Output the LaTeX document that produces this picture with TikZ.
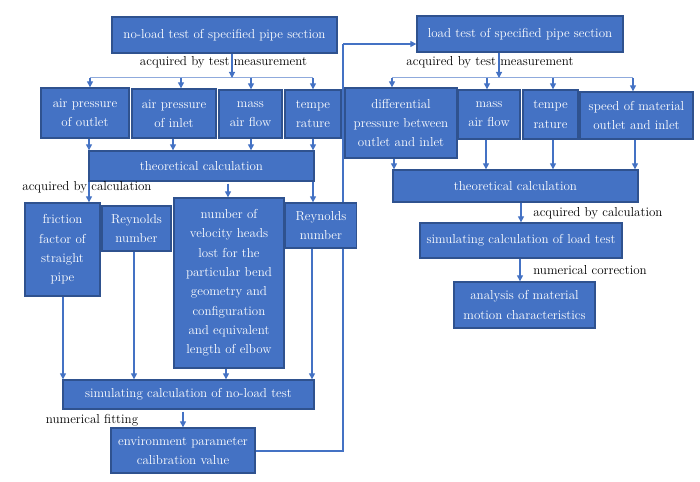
\documentclass[tikz,border=0pt]{standalone}
\usetikzlibrary{arrows.meta}
\definecolor{boxblue}{HTML}{4472C4}
\definecolor{bdr}{HTML}{2F528F}
\definecolor{lineblue}{HTML}{4472C4}
\definecolor{busblue}{HTML}{8FAADC}
\begin{document}
\begin{tikzpicture}[x=1pt,y=-1pt,
  font=\fontsize{13}{19.3}\selectfont,
  box/.style={draw=bdr, fill=boxblue, text=white, align=center, inner sep=0pt, line width=1.3pt},
  conn/.style={draw=lineblue, line width=1.1pt, -{Triangle[length=6pt,width=6pt]}},
  plain/.style={draw=lineblue, line width=1.1pt},
  busline/.style={draw=busblue, line width=1pt},
  lbl/.style={text=black, inner sep=0pt}]
\useasboundingbox (0,0) rectangle (700,481);
% helper x positions
\foreach \n/\x in {v63/63,v89/89,v90/90,v134/134,v173/173,v181/181,v183/183,v226/226,v228/228,v232/232,v251/251,v312/312,v313/313,v343/343,v392/392,v394/394,v486/486,v487/487,v499/499,v520/520,v521/521,v553/553,v633/633,v635/635}
  \coordinate (\n) at (\x,0);

% feedback line first (behind boxes)
\node[box, minimum width=144pt, minimum height=45pt] (env) at (183,450.5) {environment parameter\\calibration value};
\node[box, minimum width=206pt, minimum height=36pt] (load) at (520,34) {load test of specified pipe section};
\coordinate (fb1) at (343,451);
\coordinate (fb2) at (343,44);
\draw[plain] (env.east |- fb1) -- (fb1) -- (fb2);
\draw[conn] (fb2) -- (load.west |- fb2);

% ===== left part =====
\node[box, minimum width=225pt, minimum height=36pt] (A) at (224.5,35) {no-load test of specified pipe section};
\node[lbl] (L1) at (223.5,62) {acquired by test measurement};
\node[box, minimum width=88pt, minimum height=50pt] (ao) at (85,113) {air pressure\\of outlet};
\node[box, minimum width=84pt, minimum height=49pt] (ai) at (174,113.5) {air pressure\\of inlet};
\node[box, minimum width=63pt, minimum height=48pt] (mf) at (250.5,114) {mass\\air flow};
\node[box, minimum width=56pt, minimum height=48pt] (tr) at (313,114) {tempe\\rature};
\node[box, minimum width=225pt, minimum height=30pt] (tc1) at (201.5,166) {theoretical calculation};
\node[lbl] (L2) at (87,187) {acquired by calculation};
\node[box, minimum width=75pt, minimum height=93pt] (ff) at (62.5,249.5) {friction\\factor of\\straight\\pipe};
\node[box, minimum width=69pt, minimum height=45pt] (re1) at (136.5,228.5) {Reynolds\\number};
\node[box, minimum width=110pt, minimum height=170pt] (vh) at (229,283) {number of\\velocity heads\\lost for the\\particular bend\\geometry and\\configuration\\and equivalent\\length of elbow};
\node[box, minimum width=71pt, minimum height=45pt] (re2) at (321,225.5) {Reynolds\\number};
\node[box, minimum width=251pt, minimum height=29pt] (sim1) at (188.5,394.5) {simulating calculation of no-load test};
\node[lbl] (L3) at (92,420) {numerical fitting};

\coordinate (b1) at (232,78);
\coordinate (b1l) at (90,78);
\coordinate (b1r) at (313,78);
\draw[busline] (b1l) -- (b1r);
\draw[conn] (A.south -| b1) -- (b1);
\draw[conn] (b1l) -- (ao.north -| b1l);
\draw[conn] (b1l -| v181) -- (ai.north -| v181);
\draw[conn] (b1l -| v251) -- (mf.north -| v251);
\draw[conn] (b1r) -- (tr.north -| b1r);

\draw[conn] (ao.south -| v89) -- (tc1.north -| v89);
\draw[conn] (ai.south -| v173) -- (tc1.north -| v173);
\draw[conn] (mf.south -| v251) -- (tc1.north -| v251);
\draw[conn] (tr.south -| v313) -- (tc1.north -| v313);

\draw[conn] (tc1.south -| v89) -- (ff.north -| v89);
\draw[conn] ([yshift=-2pt]tc1.south -| v228) -- (vh.north -| v228);
\draw[conn] (tc1.south -| v313) -- (re2.north -| v313);

\draw[conn] (ff.south -| v63) -- (sim1.north -| v63);
\draw[conn] (re1.south -| v134) -- (sim1.north -| v134);
\draw[conn] (vh.south -| v226) -- (sim1.north -| v226);
\draw[conn] (re2.south -| v312) -- (sim1.north -| v312);
\draw[conn] ([yshift=-2pt]sim1.south -| v183) -- (env.north -| v183);

% ===== right part =====
\node[lbl] (R1) at (490,62) {acquired by test measurement};
\node[box, minimum width=112pt, minimum height=70pt] (dp) at (401,123) {differential\\pressure between\\outlet and inlet};
\node[box, minimum width=62pt, minimum height=49pt] (mf2) at (489,114.5) {mass\\air flow};
\node[box, minimum width=55pt, minimum height=49pt] (tr2) at (550.5,114.5) {tempe\\rature};
\node[box, minimum width=113pt, minimum height=47pt] (sp) at (636.5,115.5) {speed of material\\outlet and inlet};
\node[box, minimum width=245pt, minimum height=32pt] (tc2) at (515.5,186) {theoretical calculation};
\node[lbl] (R2) at (598,213) {acquired by calculation};
\node[box, minimum width=202pt, minimum height=35pt] (sim2) at (521,240.5) {simulating calculation of load test};
\node[lbl] (R3) at (590,270) {numerical correction};
\node[box, minimum width=141pt, minimum height=46pt] (an) at (524.5,305) {analysis of material\\motion characteristics};

\coordinate (b2) at (499,78);
\coordinate (b2l) at (392,78);
\coordinate (b2r) at (633,78);
\draw[busline] (b2l) -- (b2r);
\draw[conn] (load.south -| b2) -- (b2);
\draw[conn] (b2l) -- (dp.north -| b2l);
\draw[conn] (b2l -| v487) -- (mf2.north -| v487);
\draw[conn] (b2l -| v553) -- (tr2.north -| v553);
\draw[conn] (b2r) -- (sp.north -| b2r);

\draw[conn] (dp.south -| v394) -- (tc2.north -| v394);
\draw[conn] (mf2.south -| v486) -- (tc2.north -| v486);
\draw[conn] (tr2.south -| v553) -- (tc2.north -| v553);
\draw[conn] (sp.south -| v635) -- (tc2.north -| v635);

\draw[conn] (tc2.south -| v521) -- (sim2.north -| v521);
\draw[conn] (sim2.south -| v520) -- (an.north -| v520);
\end{tikzpicture}
\end{document}
